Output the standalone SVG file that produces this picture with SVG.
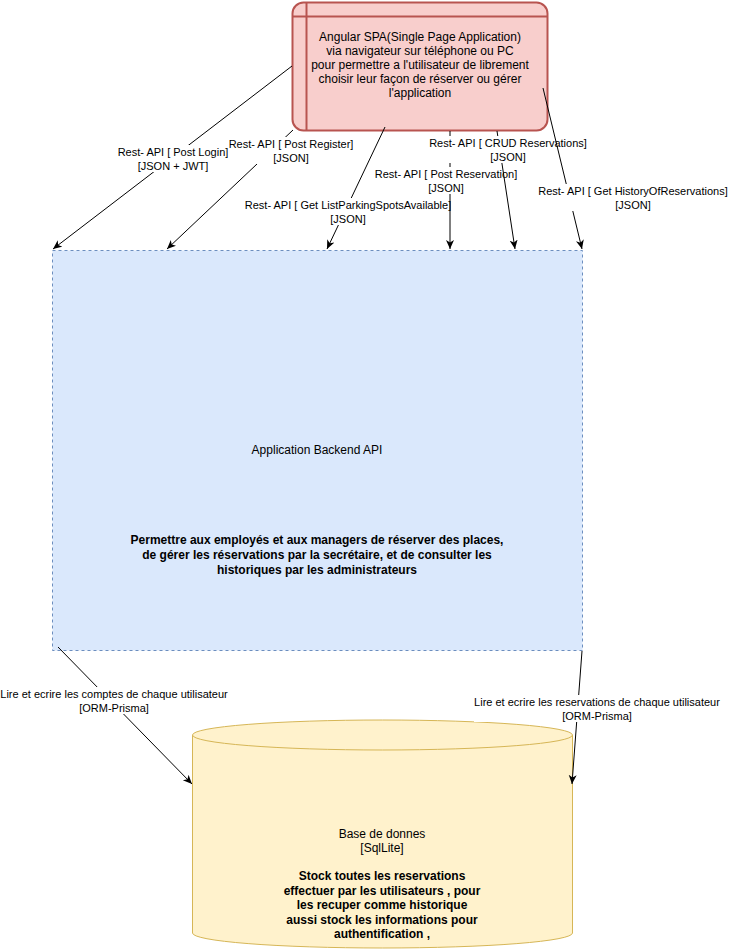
<svg xmlns="http://www.w3.org/2000/svg" width="729" height="952" viewBox="0 0 729 952">
<defs>
<marker id="arr" markerWidth="10" markerHeight="10" refX="9" refY="4.5" orient="auto" markerUnits="userSpaceOnUse">
<path d="M0,0.5 L9,4.5 L0,8.5 L2.5,4.5 Z" fill="#000"/>
</marker>
</defs>
<style>
text{font-family:"Liberation Sans",Arial,sans-serif;fill:#000;text-anchor:middle}
.n{font-size:12px}
.b{font-size:12px;font-weight:bold}
.l{font-size:11px}
.e{stroke:#000;stroke-width:1;fill:none;marker-end:url(#arr)}
.bg{fill:#fff}
</style>
<rect width="729" height="952" fill="#fff"/>
<g id="spa">
<rect x="292.5" y="2.5" width="255" height="128" rx="11" fill="#f8cecc" stroke="#b85450" stroke-width="2"/>
<line x1="306.5" y1="2.5" x2="306.5" y2="130.5" stroke="#b85450" stroke-width="2"/>
<line x1="292.5" y1="16.5" x2="547.5" y2="16.5" stroke="#b85450" stroke-width="2"/>
<text class="n" x="420" y="41">Angular SPA(Single Page Application)</text>
<text class="n" x="420" y="55">via navigateur sur téléphone ou PC</text>
<text class="n" x="420" y="69">pour permettre a l'utilisateur de librement</text>
<text class="n" x="420" y="83">choisir leur façon de réserver ou gérer</text>
<text class="n" x="420" y="97">l'application</text>
</g>
<g id="backend">
<rect x="52.5" y="250.5" width="530" height="400" fill="#dae8fc" stroke="#6c8ebf" stroke-dasharray="3,3"/>
<text class="n" x="317" y="454">Application Backend API</text>
<text class="b" x="317" y="544">Permettre aux employés et aux managers de réserver des places,</text>
<text class="b" x="317" y="559">de gérer les réservations par la secrétaire, et de consulter les</text>
<text class="b" x="317" y="574">historiques par les administrateurs</text>
</g>
<g id="db">
<path d="M192.5,735 L192.5,933 A190,15 0 0 0 572.5,933 L572.5,735" fill="#fff2cc" stroke="#d6b656"/>
<ellipse cx="382.5" cy="735" rx="190" ry="15" fill="#fff2cc" stroke="#d6b656"/>
<text class="n" x="382" y="838">Base de donnes</text>
<text class="n" x="382" y="852">[SqlLite]</text>
<text class="b" x="382" y="880">Stock toutes les reservations</text>
<text class="b" x="382" y="895">effectuer par les utilisateurs , pour</text>
<text class="b" x="382" y="909">les recuper comme  historique</text>
<text class="b" x="382" y="924">aussi stock les informations pour</text>
<text class="b" x="382" y="938">authentification ,</text>
</g>
<g id="connectors">
<g id="e-login">
<line class="e" x1="292" y1="66" x2="53" y2="249"/>
<rect class="bg" x="118" y="145" width="111" height="27"/>
<text class="l" x="173" y="156">Rest- API [ Post Login]</text>
<text class="l" x="173" y="170">[JSON + JWT]</text>
</g>
<g id="e-register">
<line class="e" x1="293" y1="130" x2="167" y2="249"/>
<rect class="bg" x="229" y="137" width="124" height="27"/>
<text class="l" x="291" y="148">Rest- API [ Post Register]</text>
<text class="l" x="291" y="162">[JSON]</text>
</g>
<g id="e-list">
<line class="e" x1="385" y1="127" x2="327" y2="249"/>
<rect class="bg" x="246" y="198" width="205" height="27"/>
<text class="l" x="348" y="209">Rest- API [ Get ListParkingSpotsAvailable]</text>
<text class="l" x="348" y="223">[JSON]</text>
</g>
<g id="e-postres">
<line class="e" x1="450" y1="131" x2="450" y2="249"/>
<rect class="bg" x="376" y="167" width="141" height="27"/>
<text class="l" x="446" y="178">Rest- API [ Post Reservation]</text>
<text class="l" x="446" y="192">[JSON]</text>
</g>
<g id="e-crud">
<line class="e" x1="497" y1="131" x2="515" y2="249"/>
<rect class="bg" x="430" y="136" width="157" height="27"/>
<text class="l" x="508" y="147">Rest- API [ CRUD Reservations]</text>
<text class="l" x="508" y="161">[JSON]</text>
</g>
<g id="e-history">
<line class="e" x1="543" y1="88" x2="582" y2="249"/>
<rect class="bg" x="539" y="184" width="189" height="27"/>
<text class="l" x="633" y="195">Rest- API [ Get HistoryOfReservations]</text>
<text class="l" x="633" y="209">[JSON]</text>
</g>
<g id="e-accounts">
<line class="e" x1="58" y1="647" x2="192" y2="784"/>
<rect class="bg" x="0" y="687" width="228" height="27"/>
<text class="l" x="114" y="698">Lire et ecrire les comptes de chaque utilisateur</text>
<text class="l" x="114" y="712">[ORM-Prisma]</text>
</g>
<g id="e-reservations">
<line class="e" x1="582" y1="651" x2="572" y2="784"/>
<rect class="bg" x="474" y="695" width="246" height="27"/>
<text class="l" x="597" y="706">Lire et ecrire les reservations de chaque utilisateur</text>
<text class="l" x="597" y="720">[ORM-Prisma]</text>
</g>
</g>
</svg>
